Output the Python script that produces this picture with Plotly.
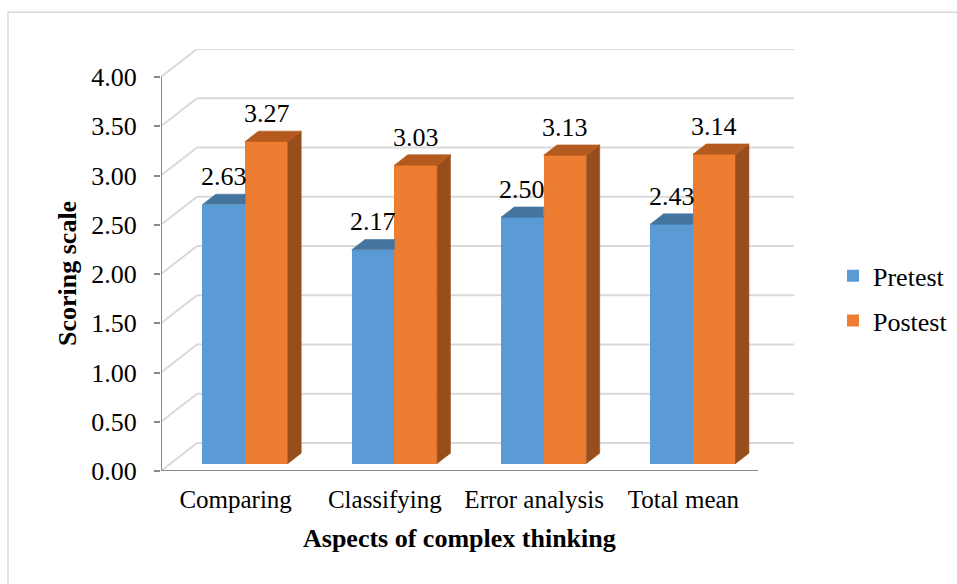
import plotly.graph_objects as go

# ---- data -------------------------------------------------------------
categories = ["Comparing", "Classifying", "Error analysis", "Total mean"]
pretest = [2.63, 2.17, 2.50, 2.43]
postest = [3.27, 3.03, 3.13, 3.14]
y_ticks = [0, 0.5, 1.0, 1.5, 2.0, 2.5, 3.0, 3.5, 4.0]

# ---- colours ----------------------------------------------------------
PRE_FRONT, PRE_TOP = "#5B9BD5", "#44759F"
POST_FRONT, POST_TOP, POST_SIDE = "#ED7D31", "#B45A1E", "#984E1C"
GRID, AXIS, TEXT = "#D9D9D9", "#898989", "#000000"
FONT = "Liberation Serif, Times New Roman, serif"

# ---- pseudo-3D geometry (pixels) ---------------------------------------
W, H = 957, 584
LEFT = 161            # front value axis
BOTTOM = 470.7        # front zero line
CAT_PX = 149.25       # one category on the front plane
VAL_PX = 98.5         # pixels per scoring unit
WALL_DX, WALL_DY = 36, 28          # depth of floor / side wall
BAR_PX = 42.7                       # bar width
BAR_D0, BAR_D1 = 0.265, 0.635       # bar front/back face, fraction of floor depth

n = len(categories)
y_top = max(y_ticks)
dxw = WALL_DX / CAT_PX
dyw = WALL_DY / VAL_PX
x_range = [-0.5, n - 0.5 + dxw]
y_range = [0, y_top + dyw]
plot_w = (x_range[1] - x_range[0]) * CAT_PX
plot_h = (y_range[1] - y_range[0]) * VAL_PX

bw = BAR_PX / CAT_PX
sx0, sy0 = BAR_D0 * dxw, BAR_D0 * dyw
ddx, ddy = (BAR_D1 - BAR_D0) * dxw, (BAR_D1 - BAR_D0) * dyw
centers = [i + sx0 for i in range(n)]

fig = go.Figure()

# front faces of the columns
fig.add_trace(go.Bar(x=centers, y=pretest, base=sy0, width=bw, offset=-bw,
                     name="Pretest", marker=dict(color=PRE_FRONT, line=dict(width=0)),
                     legendgroup="pre", hoverinfo="skip"))
fig.add_trace(go.Bar(x=centers, y=postest, base=sy0, width=bw, offset=0,
                     name="Postest", marker=dict(color=POST_FRONT, line=dict(width=0)),
                     legendgroup="post", hoverinfo="skip"))


def faces(polys, color):
    xs, ys = [], []
    for p in polys:
        for (px, py) in p:
            xs.append(px)
            ys.append(py)
        xs.append(p[0][0])
        ys.append(p[0][1])
        xs.append(None)
        ys.append(None)
    return go.Scatter(x=xs, y=ys, mode="lines", fill="toself", fillcolor=color,
                      line=dict(color=color, width=0.6), showlegend=False,
                      hoverinfo="skip")


pre_tops, post_tops, post_sides = [], [], []
for c, v_pre, v_post in zip(centers, pretest, postest):
    # pretest top: its back-right part is hidden behind the postest column
    xl, xr, t = c - bw, c, v_pre + sy0
    pre_tops.append([(xl, t), (xr, t), (xr, t + ddy), (xl + ddx, t + ddy)])
    xl, xr, t = c, c + bw, v_post + sy0
    post_tops.append([(xl, t), (xr, t), (xr + ddx, t + ddy), (xl + ddx, t + ddy)])
    post_sides.append([(xr, sy0), (xr + ddx, sy0 + ddy), (xr + ddx, t + ddy), (xr, t)])

fig.add_trace(faces(pre_tops, PRE_TOP))
fig.add_trace(faces(post_sides, POST_SIDE))
fig.add_trace(faces(post_tops, POST_TOP))

shapes = []
# back-wall and side-wall gridlines
for v in y_ticks:
    shapes.append(dict(type="line", layer="below", x0=-0.5, y0=v, x1=-0.5 + dxw, y1=v + dyw,
                       line=dict(color=GRID, width=2)))
    shapes.append(dict(type="line", layer="below", x0=-0.5 + dxw, y0=v + dyw,
                       x1=n - 0.5 + dxw, y1=v + dyw, line=dict(color=GRID, width=2)))
# front axes
shapes.append(dict(type="line", layer="above", x0=-0.5, y0=0, x1=-0.5, y1=y_top,
                   line=dict(color=AXIS, width=2)))
shapes.append(dict(type="line", layer="above", x0=-0.5, y0=0, x1=n - 0.5, y1=0,
                   line=dict(color=AXIS, width=2)))
# chart frame
shapes.append(dict(type="rect", layer="below", xref="paper", yref="paper",
                   x0=(8 - LEFT) / plot_w, x1=(W + 6 - LEFT) / plot_w,
                   y0=(BOTTOM - H - 6) / plot_h, y1=(BOTTOM - 12) / plot_h,
                   line=dict(color=GRID, width=1.5), fillcolor="rgba(0,0,0,0)"))

annotations = []
for c, v_pre, v_post in zip(centers, pretest, postest):
    for x, v in ((c - bw / 2, v_pre), (c + bw / 2, v_post)):
        annotations.append(dict(x=x, y=v + sy0, text=f"{v:.2f}", showarrow=False,
                                yanchor="middle", yshift=28,
                                font=dict(family=FONT, size=26, color=TEXT)))
annotations.append(dict(text="Scoring scale", textangle=-90, showarrow=False,
                        xref="paper", x=(67 - LEFT) / plot_w, yref="y", y=y_top / 2,
                        xanchor="center", yanchor="middle",
                        font=dict(family=FONT, size=26, color=TEXT, weight="bold")))
annotations.append(dict(text="Aspects of complex thinking", showarrow=False,
                        xref="x", x=(n - 1) / 2, yref="paper", y=(BOTTOM - 538) / plot_h,
                        xanchor="center", yanchor="middle",
                        font=dict(family=FONT, size=26, color=TEXT, weight="bold")))

fig.update_layout(
    width=W, height=H,
    margin=dict(l=LEFT, r=W - LEFT - plot_w, t=BOTTOM - plot_h, b=H - BOTTOM,
                autoexpand=False),
    paper_bgcolor="white", plot_bgcolor="white",
    barmode="overlay", bargap=0,
    shapes=shapes, annotations=annotations,
    showlegend=True,
    legend=dict(x=(833 - LEFT) / plot_w, xanchor="left",
                y=(BOTTOM - 252) / plot_h, yanchor="top",
                font=dict(family=FONT, size=26, color=TEXT),
                tracegroupgap=8, bgcolor="rgba(0,0,0,0)"),
    font=dict(family=FONT, color=TEXT),
)
fig.update_xaxes(range=x_range, tickvals=list(range(n)), ticktext=categories,
                 showgrid=False, zeroline=False, showline=False, ticks="",
                 ticklabelstandoff=11,
                 tickfont=dict(family=FONT, size=25, color=TEXT), fixedrange=True)
fig.update_yaxes(range=y_range, tickvals=y_ticks, ticktext=[f"{v:.2f}" for v in y_ticks],
                 showgrid=False, zeroline=False, showline=False,
                 ticks="outside", ticklen=6, tickwidth=2, tickcolor=AXIS,
                 ticklabelstandoff=12,
                 tickfont=dict(family=FONT, size=26, color=TEXT), fixedrange=True)

fig.write_html("out.html")
